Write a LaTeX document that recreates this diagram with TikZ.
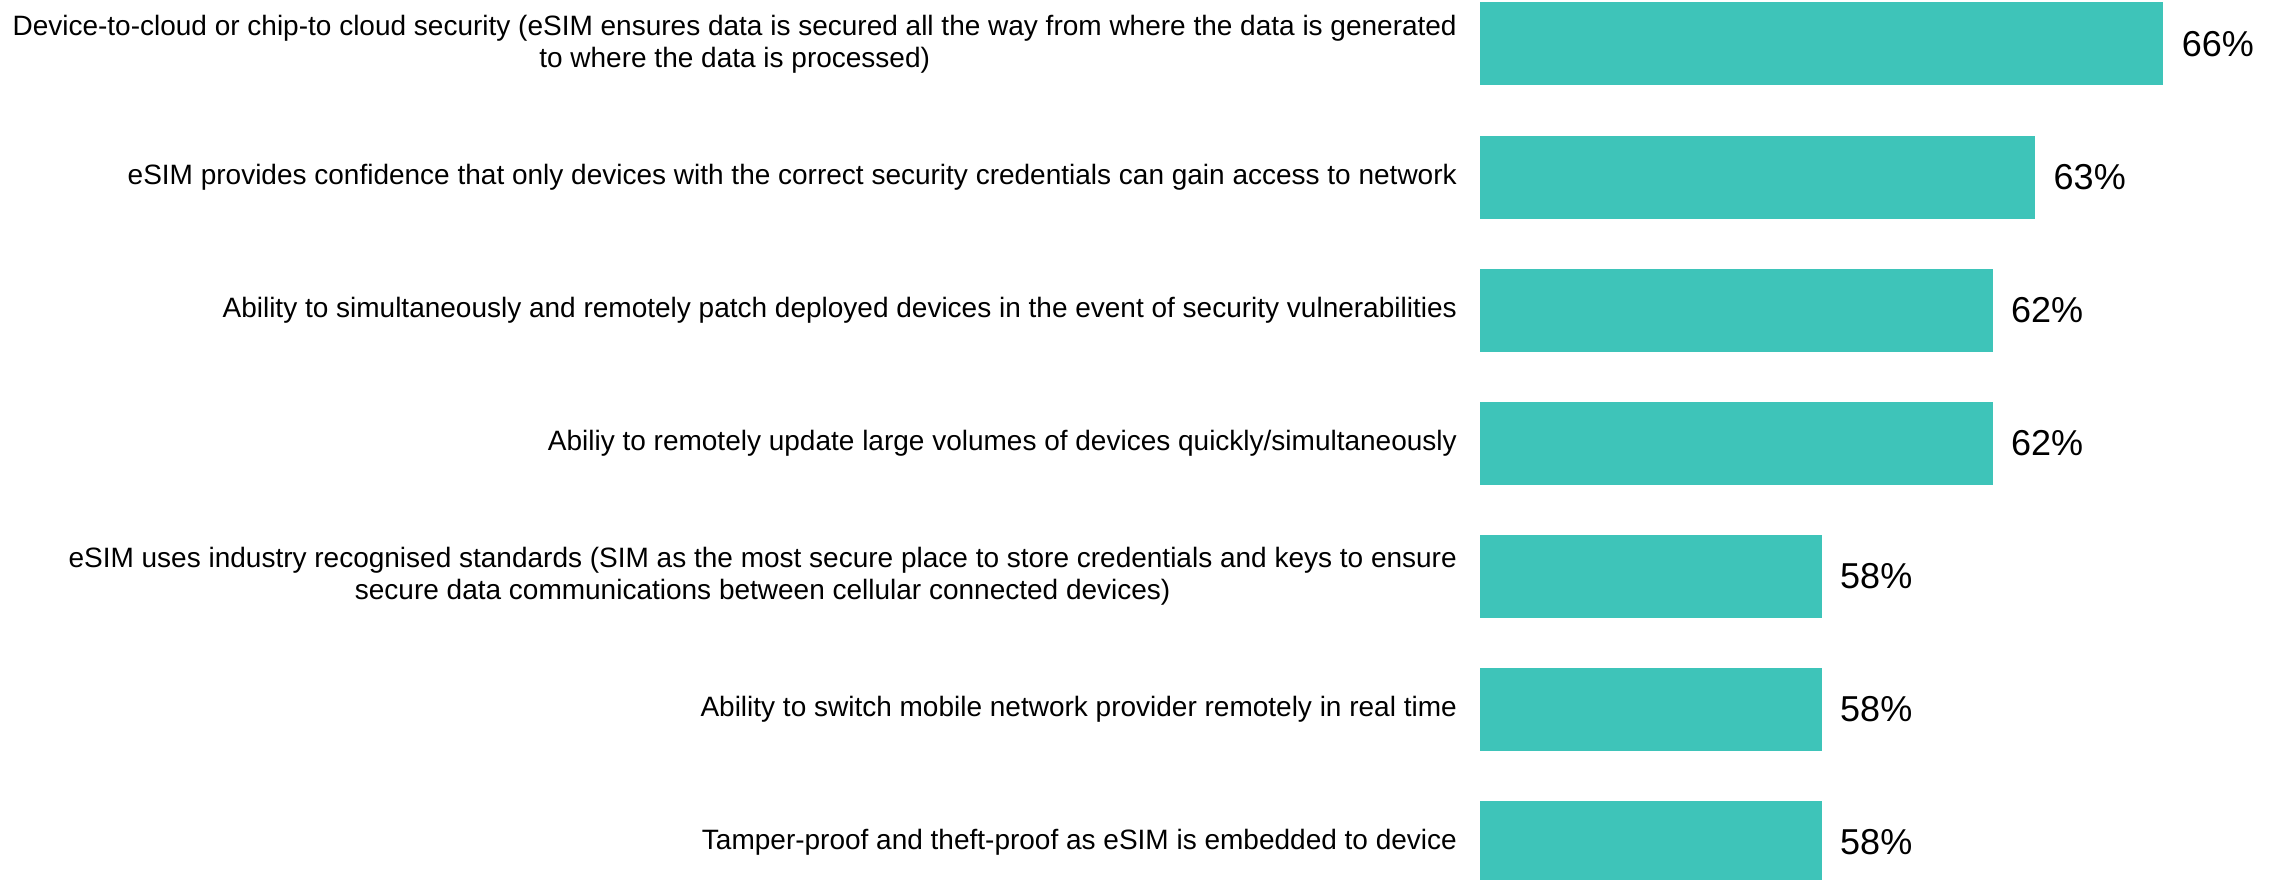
\documentclass[tikz,border=0pt]{standalone}
\usepackage{fontspec}
\setmainfont{Liberation Sans}
\definecolor{barteal}{HTML}{3EC4B9}
\begin{document}
\begin{tikzpicture}[x=1pt,y=-1pt,
  bar/.style={fill=barteal,draw=none},
  lbl/.style={anchor=east,align=center,inner sep=0pt,font=\fontsize{28}{32}\selectfont},
  val/.style={anchor=west,inner sep=0pt,font=\fontsize{36}{40}\selectfont}]
\useasboundingbox (0,0) rectangle (2282,880);
\def\bx{1480}
\def\sc{42.7}
\foreach \i/\v/\t in {
  0/66/{Device-to-cloud or chip-to cloud security (eSIM ensures data is secured all the way from where the data is generated\\to where the data is processed)},
  1/63/{eSIM provides confidence that only devices with the correct security credentials can gain access to network},
  2/62/{Ability to simultaneously and remotely patch deployed devices in the event of security vulnerabilities},
  3/62/{Abiliy to remotely update large volumes of devices quickly/simultaneously},
  4/58/{eSIM uses industry recognised standards (SIM as the most secure place to store credentials and keys to ensure\\secure data communications between cellular connected devices)},
  5/58/{Ability to switch mobile network provider remotely in real time},
  6/58/{Tamper-proof and theft-proof as eSIM is embedded to device}}{
  \pgfmathsetmacro{\cy}{44+133*\i}
  \node[bar,minimum height=83pt,minimum width={(\v-50)*\sc*1pt},inner sep=0pt,anchor=west] (b\i) at (\bx,\cy) {};
  \node[lbl] (t\i) at (1457,\cy) {\t};
  \node[val] (v\i) at ([xshift=18pt]b\i.east) {\v\%};
}
\end{tikzpicture}
\end{document}
